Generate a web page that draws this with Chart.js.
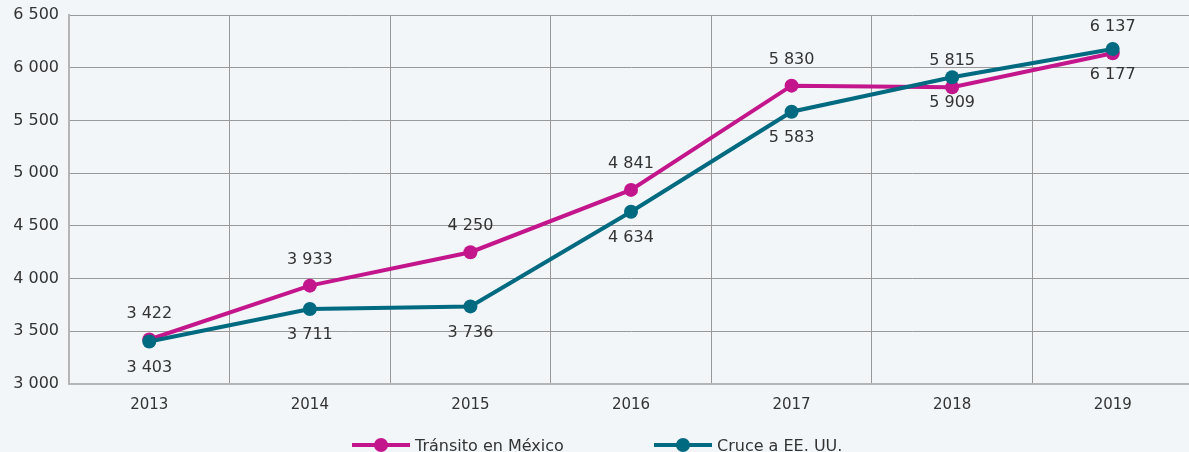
<!DOCTYPE html>
<html>
<head>
<meta charset="utf-8">
<script src="https://cdn.jsdelivr.net/npm/chart.js@4"></script>
<style>
  html, body { margin: 0; padding: 0; background: #f2f6f9; overflow: hidden; }
  #wrap { position: relative; width: 1200px; height: 452px; }
  .legend { position: absolute; top: 436px; display: flex; align-items: center;
    font-family: "DejaVu Sans", sans-serif; font-size: 16px; color: #333; height: 18px; }
  .key { position: relative; width: 58px; height: 18px; margin-right: 5px; }
  .key::before { content: ""; position: absolute; left: 0; right: 0; top: 7px; height: 4px; background: var(--c); }
  .key::after { content: ""; position: absolute; left: 22px; top: 2px; width: 14px; height: 14px; border-radius: 50%; background: var(--c); }
</style>
</head>
<body>
<div id="wrap">
  <canvas id="migration"></canvas>
  <div class="legend" style="left:352px"><span class="key" style="--c:#c4168c"></span>Tránsito en México</div>
  <div class="legend" style="left:654px"><span class="key" style="--c:#006a80"></span>Cruce a EE. UU.</div>
</div>
<script>
const years = ["2013", "2014", "2015", "2016", "2017", "2018", "2019"];
const transito = [3422, 3933, 4250, 4841, 5830, 5815, 6137];
const cruce = [3403, 3711, 3736, 4634, 5583, 5909, 6177];

const pink = "#c4168c";
const teal = "#006a80";

function fmt(n) {
  return String(n).replace(/\B(?=(\d{3})+(?!\d))/g, " ");
}

// value labels: pink above the point, teal below
const pointLabels = {
  id: "pointLabels",
  afterDatasetsDraw(chart) {
    const ctx = chart.ctx;
    ctx.save();
    ctx.font = "16px 'DejaVu Sans'";
    ctx.fillStyle = "#333";
    ctx.textAlign = "center";
    ctx.textBaseline = "middle";
    chart.data.datasets.forEach((ds, i) => {
      const meta = chart.getDatasetMeta(i);
      const off = i === 0 ? -26 : 26;
      meta.data.forEach((pt, j) => {
        ctx.fillText(fmt(ds.data[j]), pt.x, pt.y + off);
      });
    });
    ctx.restore();
  },
};

new Chart(document.getElementById("migration"), {
  type: "line",
  data: {
    labels: years,
    datasets: [
      {
        label: "Tránsito en México",
        data: transito,
        borderColor: pink,
        backgroundColor: pink,
        borderWidth: 4,
        pointRadius: 7,
        pointBorderWidth: 0,
        tension: 0,
        order: 2,
      },
      {
        label: "Cruce a EE. UU.",
        data: cruce,
        borderColor: teal,
        backgroundColor: teal,
        borderWidth: 4,
        pointRadius: 7,
        pointBorderWidth: 0,
        tension: 0,
        order: 1,
      },
    ],
  },
  options: {
    responsive: true,
    maintainAspectRatio: false,
    animation: false,
    layout: { padding: { top: 15, right: 0, bottom: 0, left: 0 } },
    plugins: {
      legend: { display: false },
      tooltip: { enabled: false },
    },
    scales: {
      x: {
        offset: true,
        grid: { offset: true, color: "#999", drawTicks: false },
        border: { color: "#b5b5b5", width: 2 },
        ticks: {
          padding: 12,
          color: "#333",
          font: { family: "DejaVu Sans", size: 15 },
        },
        afterFit(scale) { scale.height = 68; },
      },
      y: {
        min: 3000,
        max: 6500,
        grid: { color: "#999", drawTicks: false },
        border: { color: "#b5b5b5", width: 2 },
        ticks: {
          stepSize: 500,
          padding: 10,
          color: "#333",
          font: { family: "DejaVu Sans", size: 16 },
          callback: (v) => fmt(v),
        },
        afterFit(scale) {
          scale.width = 69;
          scale.paddingTop = 0;
          scale.paddingBottom = 0;
        },
      },
    },
  },
  plugins: [pointLabels],
});
</script>
</body>
</html>
